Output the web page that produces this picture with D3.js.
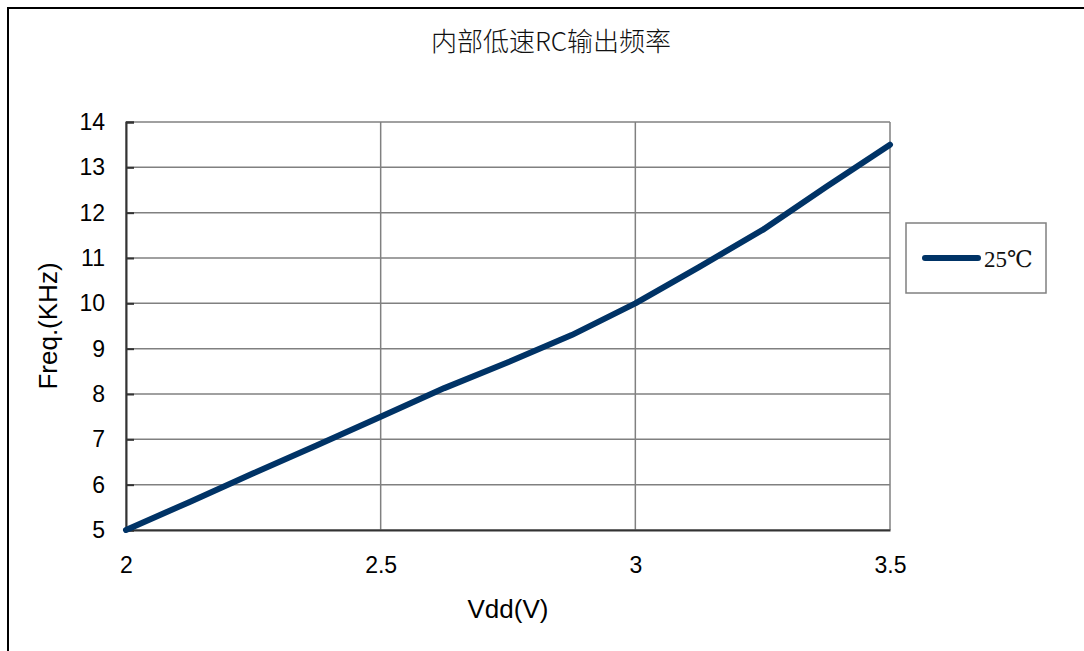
<!DOCTYPE html>
<html><head><meta charset="utf-8">
<script src="https://cdn.jsdelivr.net/npm/d3@7"></script>
<style>body{margin:0;background:#fff;}svg{display:block;}</style>
</head><body>
<svg id="c" width="1084" height="651"></svg>
<script>
const vdd = [2.0, 2.125, 2.25, 2.375, 2.5, 2.625, 2.75, 2.875, 3.0, 3.125, 3.25, 3.375, 3.5];
const freq = [5.0, 5.62, 6.25, 6.87, 7.5, 8.13, 8.7, 9.3, 10.0, 10.8, 11.62, 12.57, 13.5];
const xTicks = [2, 2.5, 3, 3.5];
const yTicks = [5, 6, 7, 8, 9, 10, 11, 12, 13, 14];
const seriesName = "25℃";
const title = "内部低速RC输出频率";

const svg = d3.select("#c");
const L = 126, R = 890, T = 122, B = 530;
const x = d3.scaleLinear().domain([2, 3.5]).range([L, R]);
const y = d3.scaleLinear().domain([5, 14]).range([B, T]);

// outer frame
svg.append("rect").attr("x", 8).attr("y", 8).attr("width", 1200).attr("height", 800)
  .attr("fill", "none").attr("stroke", "#000").attr("stroke-width", 2);

// title
svg.append("text").attr("x", 551).attr("y", 51).attr("text-anchor", "middle")
  .attr("font-family", "'Noto Sans CJK SC', 'Liberation Sans', sans-serif").attr("font-size", 26)
  .attr("font-weight", 300).attr("fill", "#111").text(title);

// grid
svg.append("g").selectAll("line").data(yTicks).join("line")
  .attr("x1", L).attr("x2", R).attr("y1", d => y(d)).attr("y2", d => y(d))
  .attr("stroke", "#808080").attr("stroke-width", 1.5);
svg.append("g").selectAll("line").data(xTicks).join("line")
  .attr("y1", T).attr("y2", B).attr("x1", d => x(d)).attr("x2", d => x(d))
  .attr("stroke", "#808080").attr("stroke-width", 1.5);

// y axis (ticks inward)
const yAxis = d3.axisLeft(y).tickValues(yTicks).tickSize(-8).tickPadding(21).tickFormat(d3.format("d"));
const gy = svg.append("g").attr("transform", `translate(${L},0)`).call(yAxis);
gy.select(".domain").attr("stroke", "#333").attr("stroke-width", 2);
gy.selectAll(".tick line").attr("stroke", "#333").attr("stroke-width", 2);
gy.selectAll("text").attr("font-family", "'Liberation Sans', Arial, sans-serif").attr("font-size", 23).attr("fill", "#000");

// x axis
const xAxis = d3.axisBottom(x).tickValues(xTicks).tickSize(0).tickPadding(27).tickFormat(d3.format("~g"));
const gx = svg.append("g").attr("transform", `translate(0,${B})`).call(xAxis);
gx.select(".domain").attr("stroke", "#333").attr("stroke-width", 2);
gx.selectAll("text").attr("font-family", "'Liberation Sans', Arial, sans-serif").attr("font-size", 23).attr("fill", "#000");

// axis titles
svg.append("text").attr("x", 508).attr("y", 618).attr("text-anchor", "middle")
  .attr("font-family", "'Liberation Sans', Arial, sans-serif").attr("font-size", 26).text("Vdd(V)");
svg.append("text").attr("transform", `translate(57,326) rotate(-90)`).attr("text-anchor", "middle")
  .attr("font-family", "'Liberation Sans', Arial, sans-serif").attr("font-size", 26).text("Freq.(KHz)");

// line
const data = vdd.map((v, i) => ({v, f: freq[i]}));
svg.append("path").datum(data)
  .attr("d", d3.line().x(d => x(d.v)).y(d => y(d.f)))
  .attr("fill", "none").attr("stroke", "#003366").attr("stroke-width", 6)
  .attr("stroke-linejoin", "round").attr("stroke-linecap", "round");

// legend
const lg = svg.append("g");
lg.append("rect").attr("x", 906).attr("y", 223).attr("width", 140).attr("height", 70)
  .attr("fill", "#fff").attr("stroke", "#808080").attr("stroke-width", 1.5);
lg.append("line").attr("x1", 925).attr("x2", 978).attr("y1", 258).attr("y2", 258)
  .attr("stroke", "#003366").attr("stroke-width", 6).attr("stroke-linecap", "round");
lg.append("text").attr("x", 984).attr("y", 267)
  .attr("font-family", "'Liberation Serif', 'DejaVu Serif', serif").attr("font-size", 23).attr("fill", "#111").text(seriesName);
</script>
</body></html>
